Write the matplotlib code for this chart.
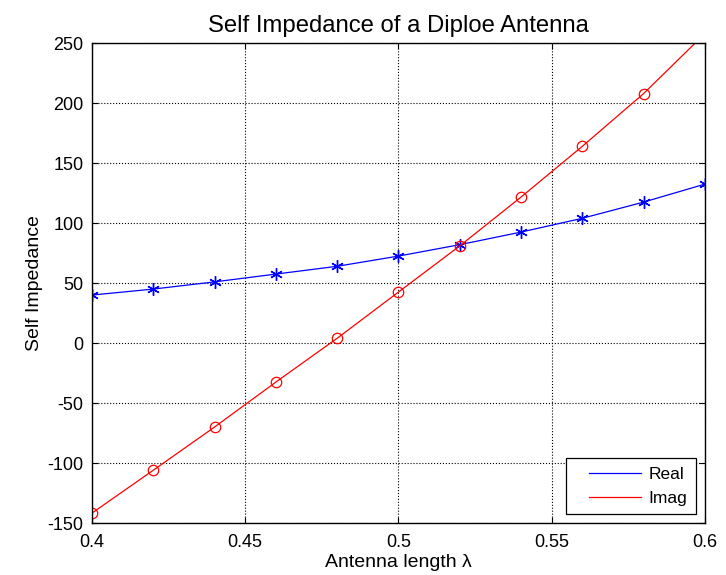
import matplotlib
matplotlib.use("Agg")
import matplotlib.pyplot as plt
import numpy as np

plt.rcParams['font.family'] = ['Liberation Sans', 'DejaVu Sans']
plt.rcParams['axes.unicode_minus'] = False

# antenna length in wavelengths
length = [0.40, 0.42, 0.44, 0.46, 0.48, 0.50, 0.52, 0.54, 0.56, 0.58, 0.60]
# self impedance
z_real = [40, 45, 51, 57.5, 64, 72.5, 82, 92.5, 104, 117.5, 132.5]
z_imag = [-141.7, -106, -70, -32.5, 4, 42.5, 81, 121.7, 164, 208, 258]

fig = plt.figure(figsize=(7.26, 5.75), dpi=100)
ax = fig.add_axes([0.1267, 0.0904, 0.8443, 0.8346])

ax.plot(length, z_real, color='b', linewidth=0.9, marker=(6, 2, 0), markersize=9,
        markeredgewidth=1.0, label='Real')
ax.plot(length, z_imag, color='r', linewidth=0.9, marker='o', markersize=7.5,
        markerfacecolor='none', markeredgewidth=0.9, label='Imag')

ax.set_xlim(0.4, 0.6)
ax.set_ylim(-150, 250)
ax.set_xticks([0.4, 0.45, 0.5, 0.55, 0.6])
ax.set_xticklabels(['0.4', '0.45', '0.5', '0.55', '0.6'])
ax.set_yticks(np.arange(-150, 251, 50))
ax.grid(True, color='black', linestyle=':', linewidth=0.8)
ax.tick_params(direction='in', labelsize=13, length=4, top=True, right=True)
ax.tick_params(axis='x', pad=8)
ax.tick_params(axis='y', pad=6)
for s in ax.spines.values():
    s.set_linewidth(1.0)

ax.set_title('Self Impedance of a Diploe Antenna', fontsize=17.2, pad=8)
ax.set_xlabel('Antenna length \u03bb', fontsize=14, labelpad=2)
ax.set_ylabel('Self Impedance', fontsize=14, labelpad=3)

fs = 12.5
leg = ax.legend(loc='lower right', fontsize=fs, fancybox=False, framealpha=1,
                edgecolor='black', borderaxespad=0.5, handlelength=3.8,
                handletextpad=0.45, borderpad=0.5, labelspacing=0.5)
leg.get_frame().set_linewidth(0.9)
for h in leg.legend_handles:
    h.set_marker('')
# MATLAB legends leave a wide gap left of the sample lines
for ln in leg.get_lines():
    xd = np.asarray(ln.get_xdata(), dtype=float)
    if len(xd) > 1:
        xd[0] = xd[0] + 0.8 * fs
        ln.set_xdata(xd)

fig.savefig('out.png', dpi=100)
